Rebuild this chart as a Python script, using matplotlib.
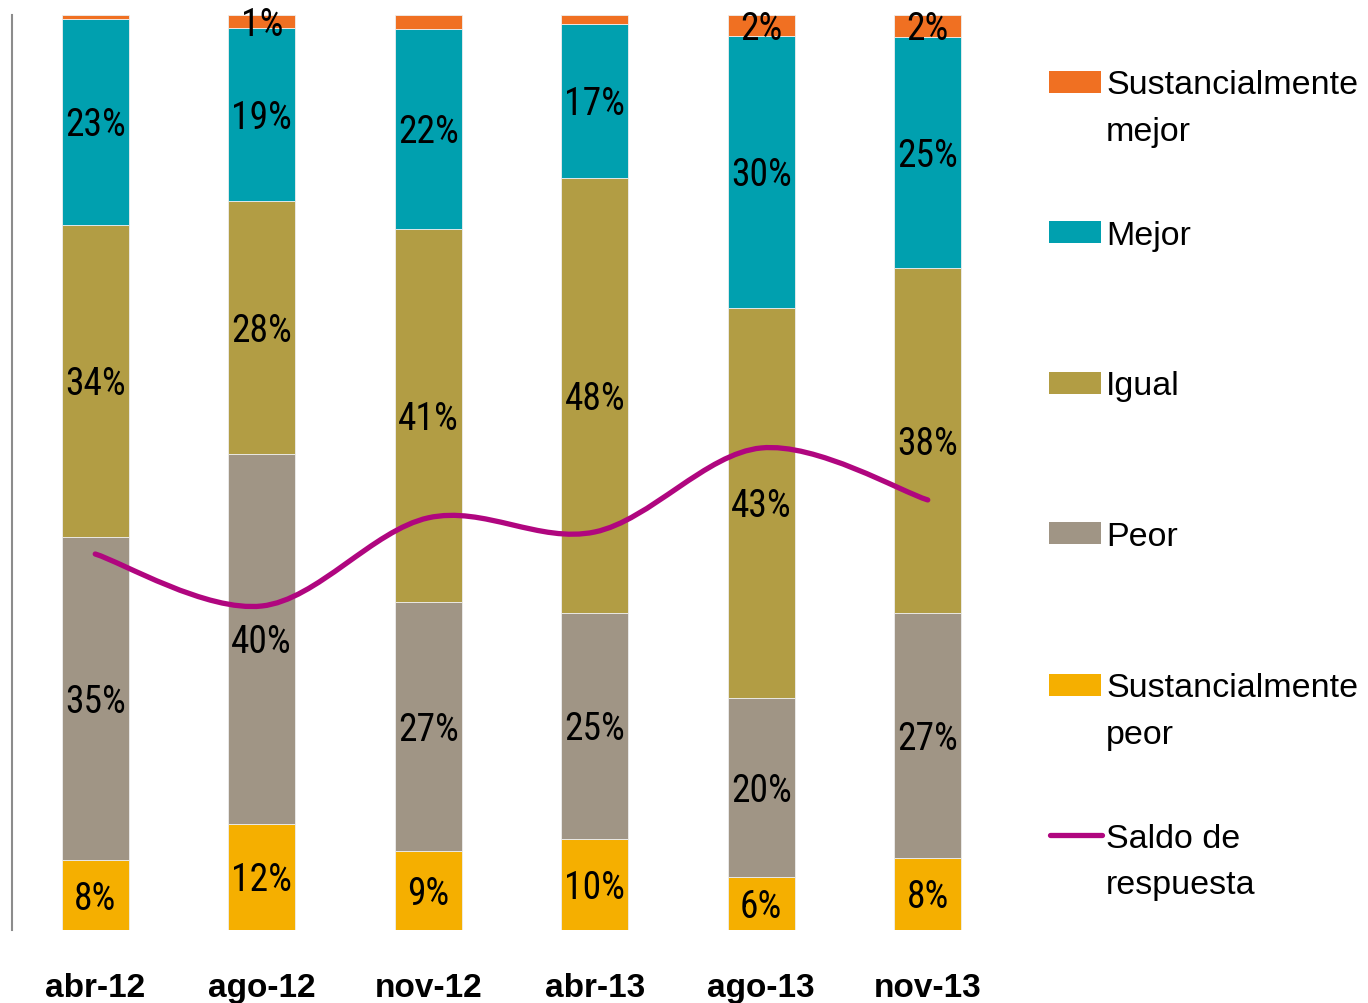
import numpy as np
import matplotlib
matplotlib.use("Agg")
import matplotlib.pyplot as plt
from matplotlib.path import Path
from matplotlib.patches import PathPatch, Rectangle
from matplotlib import font_manager

periods = ["abr-12", "ago-12", "nov-12", "abr-13", "ago-13", "nov-13"]

# stacked from bottom to top
sust_peor = [7.6, 11.6, 8.6, 10.0, 5.8, 7.9]
peor = [35.4, 40.4, 27.2, 24.6, 19.6, 26.7]
igual = [34.0, 27.7, 40.8, 47.6, 42.6, 37.8]
mejor = [22.6, 18.9, 21.9, 16.8, 29.7, 25.2]
sust_mejor = [0.4, 1.4, 1.5, 1.0, 2.3, 2.4]

# top segment label shown only where the original shows it
show_top = [False, True, False, False, True, True]

saldo = [-19.6, -32.1, -10.9, -14.3, 5.9, -6.6]

series = [
    ("Sustancialmente\npeor", sust_peor, "#F5AF00"),
    ("Peor", peor, "#A09585"),
    ("Igual", igual, "#B29D44"),
    ("Mejor", mejor, "#00A0AF"),
    ("Sustancialmente\nmejor", sust_mejor, "#F07022"),
]
line_color = "#B0067F"

names = {f.name for f in font_manager.fontManager.ttflist}
narrow = "Liberation Sans"
for cand in ["Liberation Sans Narrow", "Roboto Condensed", "Archivo Narrow", "PT Sans Narrow"]:
    if cand in names:
        narrow = cand
        break

W, H = 1368, 1004
fig = plt.figure(figsize=(W / 100, H / 100), dpi=100)
ax = fig.add_axes([12 / W, 1 - 931 / H, (1011 - 12) / W, (931 - 16) / H])

x = np.arange(len(periods))
bottom = np.zeros(len(periods))
for i, (name, vals, col) in enumerate(series):
    vals = np.array(vals)
    ax.bar(x, vals, 0.4, bottom=bottom, color=col, edgecolor="#eeeeee", linewidth=0.6)
    for j in range(len(periods)):
        if i == len(series) - 1 and not show_top[j]:
            continue
        ax.annotate(f"{vals[j]:.0f}%", (x[j], bottom[j] + vals[j] / 2),
                    xytext=(0, -9.6), textcoords="offset points",
                    ha="center", va="baseline", fontsize=27, family=narrow)
    bottom += vals

ax.set_xlim(-0.5, len(periods) - 0.5)
ax.set_ylim(0, 100)
ax.set_xticks(x)
ax.set_xticklabels(periods, fontsize=24, fontweight="bold", family="Liberation Sans")
ax.tick_params(axis="x", length=0, pad=30)
ax.set_yticks([])
for s in ["top", "right", "bottom"]:
    ax.spines[s].set_visible(False)
ax.spines["left"].set_color("#8c8c8c")
ax.spines["left"].set_linewidth(1.5)

# saldo on a secondary axis, smoothed like the spreadsheet line
ax2 = ax.twinx()
ax2.set_ylim(-110, 110)
ax2.set_yticks([])
for s in ax2.spines.values():
    s.set_visible(False)

pts = np.column_stack([x, saldo]).astype(float)
verts = [pts[0]]
codes = [Path.MOVETO]
n = len(pts)
for k in range(n - 1):
    p0 = pts[max(k - 1, 0)]
    p1 = pts[k]
    p2 = pts[k + 1]
    p3 = pts[min(k + 2, n - 1)]
    c1 = p1 + (p2 - p0) / 6
    c2 = p2 - (p3 - p1) / 6
    verts += [c1, c2, p2]
    codes += [Path.CURVE4] * 3
ax2.add_patch(PathPatch(Path(verts, codes), facecolor="none", edgecolor=line_color,
                        lw=3.8, capstyle="round"))

# legend drawn at fixed spots on the right
leg_y = [82.7, 233, 383.5, 534, 686, 836]
leg_items = [series[4], series[3], series[2], series[1], series[0]]
for (name, vals, col), yy in zip(leg_items, leg_y):
    fig.add_artist(Rectangle((1049 / W, 1 - (yy + 11) / H), 52 / W, 22 / H,
                             transform=fig.transFigure, facecolor=col, edgecolor="none"))
    fig.text(1106 / W, 1 - (yy - 12.5) / H, name, fontsize=24.5, family="Liberation Sans",
             va="top", ha="left", linespacing=1.65)
yy = leg_y[-1]
fig.add_artist(plt.Line2D([1050 / W, 1102 / W], [1 - yy / H, 1 - yy / H],
                          transform=fig.transFigure, color=line_color, lw=3.8,
                          solid_capstyle="round"))
fig.text(1106 / W, 1 - (yy - 12.5) / H, "Saldo de\nrespuesta", fontsize=24.5,
         family="Liberation Sans", va="top", ha="left", linespacing=1.65)

fig.savefig("out.png", dpi=100)
